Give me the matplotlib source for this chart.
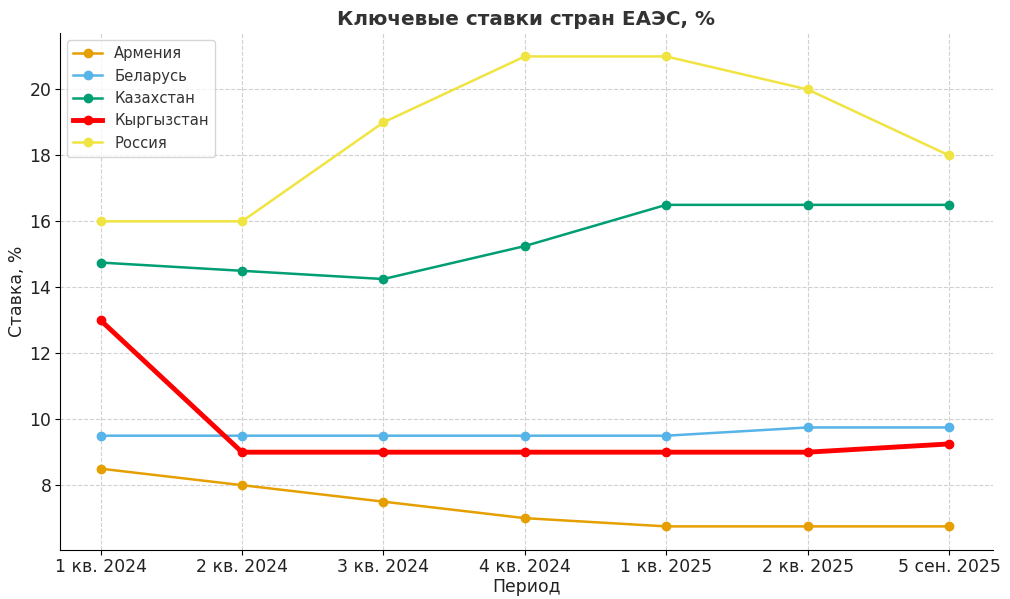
import matplotlib
matplotlib.use("Agg")
import matplotlib.pyplot as plt

periods = ["1 кв. 2024", "2 кв. 2024", "3 кв. 2024", "4 кв. 2024",
           "1 кв. 2025", "2 кв. 2025", "5 сен. 2025"]

armenia = [8.5, 8.0, 7.5, 7.0, 6.75, 6.75, 6.75]
belarus = [9.5, 9.5, 9.5, 9.5, 9.5, 9.75, 9.75]
kazakhstan = [14.75, 14.5, 14.25, 15.25, 16.5, 16.5, 16.5]
kyrgyzstan = [13.0, 9.0, 9.0, 9.0, 9.0, 9.0, 9.25]
russia = [16, 16, 19, 21, 21, 20, 18]

fig, ax = plt.subplots(figsize=(10.1, 5.99), dpi=100)

x = range(len(periods))
ax.plot(x, armenia, marker="o", color="#E69F00", lw=1.8, label="Армения")
ax.plot(x, belarus, marker="o", color="#56B4E9", lw=1.8, label="Беларусь")
ax.plot(x, kazakhstan, marker="o", color="#009E73", lw=1.8, label="Казахстан")
ax.plot(x, kyrgyzstan, marker="o", color="red", lw=3.5, label="Кыргызстан")
ax.plot(x, russia, marker="o", color="#F0E442", lw=1.8, label="Россия")

ax.set_xticks(list(x))
ax.set_xticklabels(periods, fontsize=12.4, color="#222222")
ax.tick_params(axis="both", labelsize=12.4, labelcolor="#222222", pad=2.5)
ax.set_xlabel("Период", fontsize=12.4, color="#222222", labelpad=1)
ax.set_ylabel("Ставка, %", fontsize=12.4, color="#222222", labelpad=2)
ax.set_title("Ключевые ставки стран ЕАЭС, %", fontsize=14.4, fontweight="bold", color="#333333", pad=6)

ax.grid(True, linestyle="--", color="#cccccc", alpha=0.9)
ax.spines["top"].set_visible(False)
ax.spines["right"].set_visible(False)
ax.set_xlim(-0.29, 6.31)
leg = ax.legend(loc="upper left", fontsize=10.6)
for t in leg.get_texts():
    t.set_color("#333333")

fig.subplots_adjust(left=0.059, right=0.983, top=0.945, bottom=0.082)
plt.savefig("out.png", dpi=100)
